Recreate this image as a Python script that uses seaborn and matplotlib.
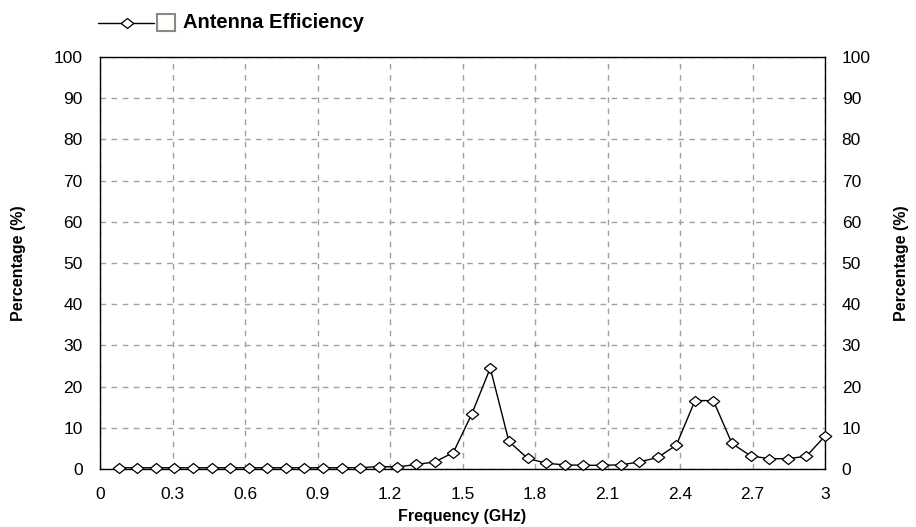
import matplotlib
matplotlib.use("Agg")
import matplotlib.pyplot as plt
import seaborn as sns
import pandas as pd
from matplotlib.lines import Line2D
from matplotlib.patches import Rectangle

freq_ghz = [0.077, 0.154, 0.231, 0.308, 0.385, 0.462, 0.538, 0.615, 0.692, 0.769,
            0.846, 0.923, 1.000, 1.077, 1.154, 1.231, 1.308, 1.385, 1.462, 1.538,
            1.615, 1.692, 1.769, 1.846, 1.923, 2.000, 2.077, 2.154, 2.231, 2.308,
            2.385, 2.462, 2.538, 2.615, 2.692, 2.769, 2.846, 2.923, 3.000]
efficiency = [0.3, 0.3, 0.3, 0.3, 0.3, 0.3, 0.3, 0.3, 0.3, 0.3,
              0.3, 0.3, 0.3, 0.3, 0.6, 0.5, 1.1, 1.7, 4.0, 13.3,
              24.5, 6.7, 2.6, 1.4, 1.0, 0.9, 0.9, 1.0, 1.7, 2.8,
              5.8, 16.6, 16.6, 6.2, 3.2, 2.5, 2.5, 3.1, 8.0]
x_ticks = [0, 0.3, 0.6, 0.9, 1.2, 1.5, 1.8, 2.1, 2.4, 2.7, 3]
x_tick_labels = ["0", "0.3", "0.6", "0.9", "1.2", "1.5", "1.8", "2.1", "2.4", "2.7", "3"]
y_ticks = [0, 10, 20, 30, 40, 50, 60, 70, 80, 90, 100]
series_name = "Antenna Efficiency"

df = pd.DataFrame({"Frequency (GHz)": freq_ghz, "Percentage (%)": efficiency})

sns.set_theme(style="white")
plt.rcParams["font.family"] = ["Liberation Sans", "DejaVu Sans"]

W, H = 916, 527
fig = plt.figure(figsize=(W / 100, H / 100), dpi=100)
ax = fig.add_axes([100 / W, 1 - 469 / H, 725 / W, 412 / H])

diamond = [(-1, 0), (0, 0.8), (1, 0), (0, -0.8), (-1, 0)]

sns.lineplot(data=df, x="Frequency (GHz)", y="Percentage (%)", ax=ax,
             color="black", linewidth=1.0, marker=diamond, markersize=9,
             markerfacecolor="white", markeredgecolor="black",
             markeredgewidth=0.9, clip_on=False, zorder=5)

ax.set_xlim(0, 3)
ax.set_ylim(0, 100)
ax.set_xticks(x_ticks)
ax.set_xticklabels(x_tick_labels)
ax.set_yticks(y_ticks)
ax.grid(True, color="#a0a0a0", linestyle=(0, (4, 4)), linewidth=1.0)
for s in ax.spines.values():
    s.set_color("black")
    s.set_linewidth(1.0)
ax.tick_params(axis="both", length=0, labelsize=12.5, colors="black")
ax.tick_params(axis="y", pad=12.5)
ax.tick_params(axis="x", pad=13)
ax.set_xlabel("Frequency (GHz)", fontsize=11.5, fontweight="bold", labelpad=5,
              color="black")
ax.set_ylabel("Percentage (%)", fontsize=11.5, fontweight="bold", labelpad=20,
              color="black")

ax2 = ax.twinx()
ax2.set_ylim(0, 100)
ax2.set_yticks(y_ticks)
ax2.tick_params(axis="y", length=0, labelsize=12.5, colors="black", pad=12)
ax2.set_ylabel("Percentage (%)", fontsize=11.5, fontweight="bold", labelpad=17,
               color="black")
for s in ax2.spines.values():
    s.set_visible(False)

# legend at the top-left
ly = 1 - 22.5 / H
fig.add_artist(Line2D([98 / W, 154 / W], [ly, ly], color="black", linewidth=1.0,
                      transform=fig.transFigure))
fig.add_artist(Line2D([127 / W], [ly], color="black", marker=diamond, markersize=9,
                      markerfacecolor="white", markeredgecolor="black",
                      markeredgewidth=0.9, transform=fig.transFigure))
fig.add_artist(Rectangle((157 / W, 1 - 31 / H), 18 / W, 17 / H,
                         facecolor="white", edgecolor="#8a8a80", linewidth=1.5,
                         transform=fig.transFigure))
fig.text(183 / W, ly, series_name, fontsize=14.5, fontweight="bold",
         va="center", ha="left", color="black")

fig.savefig("out.png", dpi=100, facecolor="white")
